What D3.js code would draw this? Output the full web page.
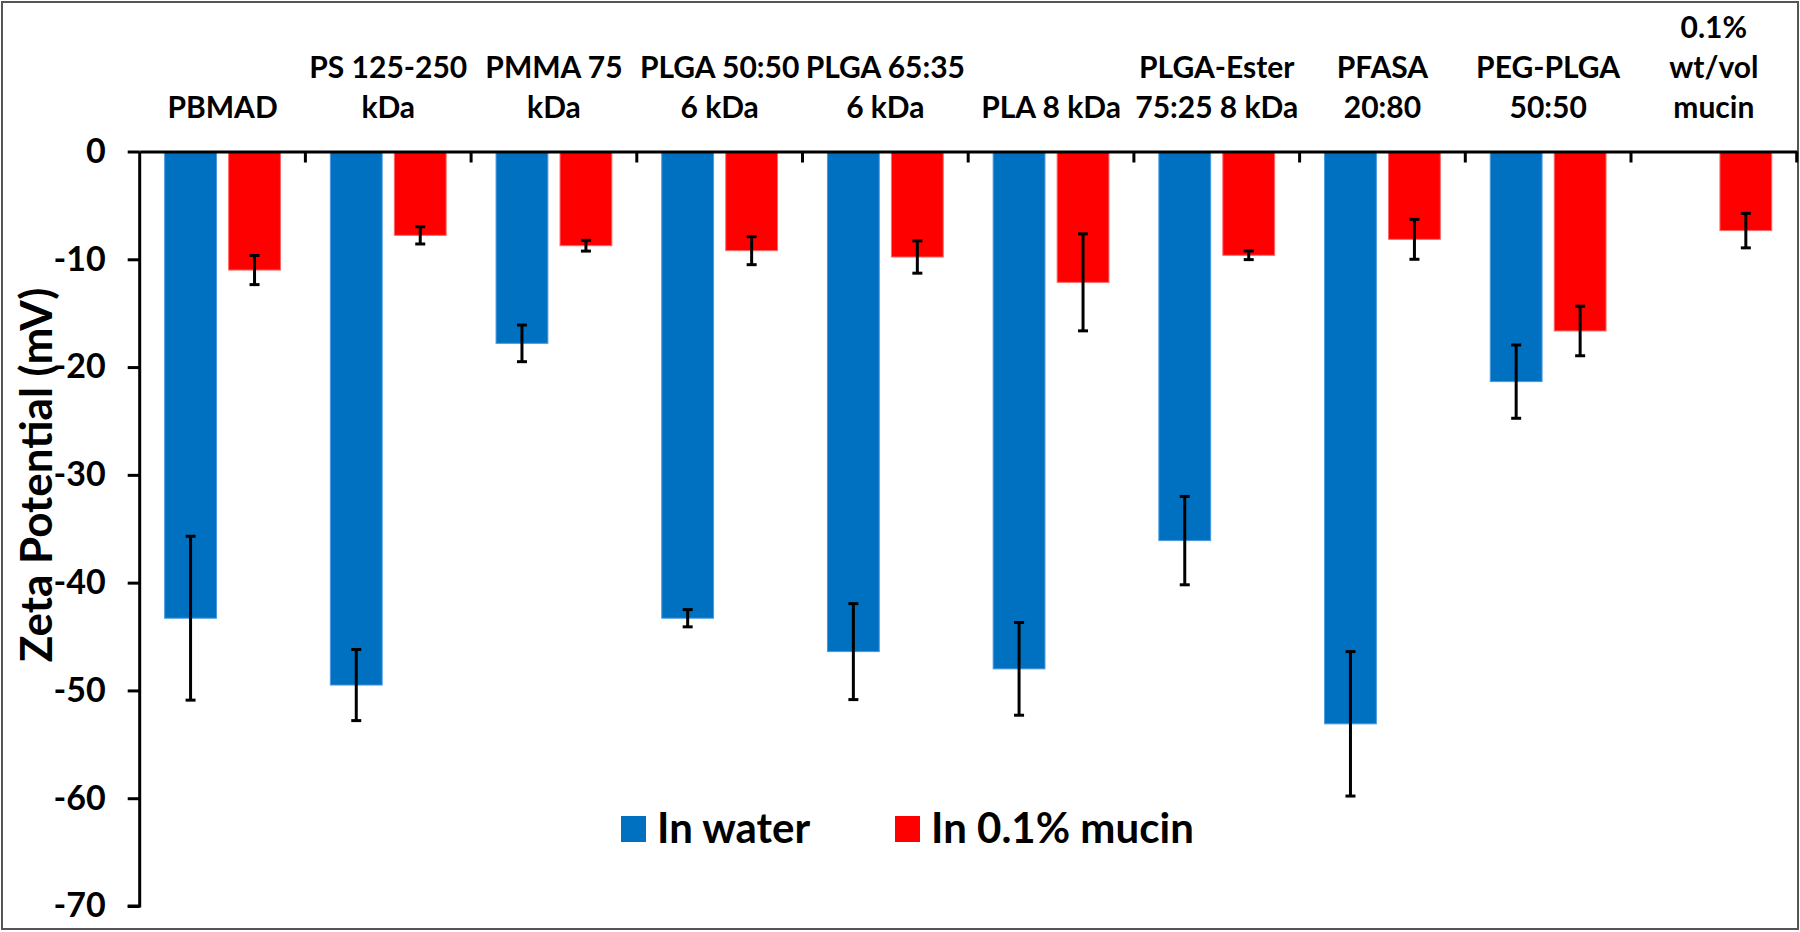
<!DOCTYPE html>
<html>
<head>
<meta charset="utf-8">
<script src="https://cdn.jsdelivr.net/npm/d3@7"></script>
<style>
  html, body { margin: 0; padding: 0; background: #fff; }
  svg { display: block; }
  text { font-family: Lato, "Open Sans", sans-serif; font-weight: bold; fill: #000; }
</style>
</head>
<body>
<svg id="chart" width="1800" height="932"></svg>
<script>
// ---- data ----
const categories = ["PBMAD", "PS 125-250 kDa", "PMMA 75 kDa", "PLGA 50:50 6 kDa", "PLGA 65:35 6 kDa",
  "PLA 8 kDa", "PLGA-Ester 75:25 8 kDa", "PFASA 20:80", "PEG-PLGA 50:50", "0.1% wt/vol mucin"];
const categoryLines = [["PBMAD"], ["PS 125-250", "kDa"], ["PMMA 75", "kDa"], ["PLGA 50:50", "6 kDa"],
  ["PLGA 65:35", "6 kDa"], ["PLA 8 kDa"], ["PLGA-Ester", "75:25 8 kDa"], ["PFASA", "20:80"],
  ["PEG-PLGA", "50:50"], ["0.1%", "wt/vol", "mucin"]];
const seriesNames = ["In water", "In 0.1% mucin"];
const waterValues = [-43.3, -49.5, -17.8, -43.3, -46.4, -48.0, -36.1, -53.1, -21.35, null];
const waterErrors = [7.6, 3.3, 1.7, 0.8, 4.45, 4.3, 4.1, 6.7, 3.4, null];
const mucinValues = [-11.0, -7.78, -8.74, -9.2, -9.79, -12.14, -9.63, -8.15, -16.65, -7.34];
const mucinErrors = [1.35, 0.8, 0.5, 1.3, 1.5, 4.5, 0.4, 1.85, 2.3, 1.6];
const yTicks = [0, -10, -20, -30, -40, -50, -60, -70];
const seriesColors = ["#0070C0", "#FF0000"];
const seriesStrokes = ["#4A9AE0", "#FF6A6A"];

// ---- layout ----
const svg = d3.select("#chart");
const W = 1800, H = 932;
const plotLeft = 139.7, plotRight = 1796.7, plotTop = 151.5, plotBottom = 906;

svg.append("rect").attr("x", 2).attr("y", 2).attr("width", W - 4).attr("height", H - 5)
  .attr("fill", "#fff").attr("stroke", "#555").attr("stroke-width", 2);

const x = d3.scaleBand().domain(categories).range([plotLeft, plotRight]).padding(0);
const xs = d3.scaleBand().domain(seriesNames).range([0, x.bandwidth()])
  .paddingInner(0.19).paddingOuter(0.39);
const y = d3.scaleLinear().domain([-70, 0]).range([plotBottom, plotTop]);

const rows = [];
categories.forEach((c, i) => {
  [[waterValues, waterErrors], [mucinValues, mucinErrors]].forEach(([vals, errs], s) => {
    if (vals[i] !== null) rows.push({ cat: c, series: seriesNames[s], s, v: vals[i], e: errs[i] });
  });
});

// bars
svg.append("g").selectAll("rect").data(rows).join("rect")
  .attr("x", d => x(d.cat) + xs(d.series))
  .attr("width", xs.bandwidth())
  .attr("y", y(0))
  .attr("height", d => y(d.v) - y(0))
  .attr("fill", d => seriesColors[d.s])
  .attr("stroke", d => seriesStrokes[d.s])
  .attr("stroke-width", 1);

// error bars
const eb = svg.append("g").attr("stroke", "#000").attr("stroke-width", 3);
rows.forEach(d => {
  const cx = x(d.cat) + xs(d.series) + xs.bandwidth() / 2;
  eb.append("line").attr("x1", cx).attr("x2", cx).attr("y1", y(d.v + d.e)).attr("y2", y(d.v - d.e));
  [d.v + d.e, d.v - d.e].forEach(t => {
    eb.append("line").attr("x1", cx - 5).attr("x2", cx + 5).attr("y1", y(t)).attr("y2", y(t));
  });
});

// y axis
const yAxis = svg.append("g").attr("transform", `translate(${plotLeft},0)`)
  .call(d3.axisLeft(y).tickValues(yTicks).tickSize(12).tickPadding(22).tickFormat(d => String(d)));
yAxis.select(".domain").attr("stroke", "#000").attr("stroke-width", 3).attr("d", `M-12,${y(-70)}H0V${y(0)}`);
yAxis.selectAll(".tick line").attr("stroke", "#000").attr("stroke-width", 3);
yAxis.selectAll(".tick text").style("font-family", "Lato, sans-serif").style("font-weight", "bold")
  .style("font-size", "34px").attr("fill", "#000");

// x axis at zero, ticks at category boundaries
const xAxis = svg.append("g").attr("transform", `translate(0,${y(0)})`)
  .call(d3.axisBottom(x).tickSize(0).tickFormat(""));
xAxis.select(".domain").attr("stroke", "#000").attr("stroke-width", 3);
xAxis.selectAll(".tick").remove();
xAxis.selectAll("line.bound").data(categories).join("line").attr("class", "bound")
  .attr("x1", d => x(d) + x.bandwidth()).attr("x2", d => x(d) + x.bandwidth())
  .attr("y1", 0).attr("y2", 11).attr("stroke", "#000").attr("stroke-width", 3);

// category labels above
const lineGap = 40, lastBaseline = 118;
categories.forEach((c, i) => {
  const lines = categoryLines[i];
  const t = svg.append("text").attr("text-anchor", "middle")
    .style("font-size", "30px");
  lines.forEach((ln, k) => {
    t.append("tspan").attr("x", x(c) + x.bandwidth() / 2)
      .attr("y", lastBaseline - (lines.length - 1 - k) * lineGap).text(ln);
  });
});

// y title
svg.append("text").attr("transform", `translate(52,475) rotate(-90)`)
  .attr("text-anchor", "middle").style("font-size", "44px").text("Zeta Potential (mV)");

// legend
const legendX = [621, 895];
seriesNames.forEach((n, i) => {
  const g = svg.append("g").attr("transform", `translate(${legendX[i]},816)`);
  g.append("rect").attr("width", 25).attr("height", 26).attr("fill", seriesColors[i]);
  g.append("text").attr("x", 36).attr("y", 27).style("font-size", "42px").text(n);
});
</script>
</body>
</html>
